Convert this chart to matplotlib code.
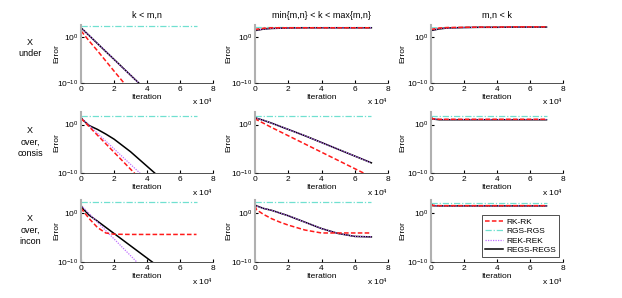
import numpy as np
import matplotlib
matplotlib.use("Agg")
import matplotlib.pyplot as plt

plt.rcParams['font.family'] = ['Liberation Sans', 'DejaVu Sans']
plt.rcParams['mathtext.fontset'] = 'custom'
plt.rcParams['mathtext.rm'] = 'Liberation Sans'
plt.rcParams['mathtext.it'] = 'Liberation Sans'

# iteration count, in units of 1e4
iters = np.array([0, 0.1, 0.5, 1, 1.5, 2, 3, 4, 5, 6, 7])
nan = np.nan

col_titles = ["k < m,n", "min{m,n} < k < max{m,n}", "m,n < k"]
row_labels = ["X\nunder", "X\nover,\nconsis", "X\nover,\nincon"]
methods = ["RK-RK", "RGS-RGS", "REK-REK", "REGS-REGS"]

# log10(error) per panel, order: RK, RGS, REK, REGS
under_low = [
    [1.3, 0.9, -0.9, -3.0, -5.2, -7.4, -11.7, nan, nan, nan, nan],
    [2.3, 2.3, 2.3, 2.3, 2.3, 2.3, 2.3, 2.3, 2.3, 2.3, 2.3],
    [2.0, 1.66, 0.3, -1.4, -3.1, -4.9, -8.3, -11.7, nan, nan, nan],
    [2.0, 1.66, 0.29, -1.43, -3.15, -4.86, -8.29, -11.7, nan, nan, nan],
]
under_mid = [
    [1.6, 1.7, 1.9, 2.0, 2.0, 2.0, 2.0, 2.0, 2.0, 2.0, 2.0],
    [2.15, 2.15, 2.15, 2.15, 2.15, 2.15, 2.15, 2.15, 2.15, 2.15, 2.15],
    [1.5, 1.5, 1.7, 1.85, 1.9, 1.95, 2.0, 2.0, 2.0, 2.0, 2.0],
    [1.4, 1.45, 1.7, 1.85, 1.9, 1.95, 2.0, 2.0, 2.0, 2.0, 2.0],
]
under_high = [
    [1.6, 1.7, 1.95, 2.05, 2.08, 2.1, 2.15, 2.15, 2.2, 2.2, 2.2],
    [2.0, 2.0, 2.0, 2.05, 2.05, 2.05, 2.1, 2.1, 2.1, 2.1, 2.1],
    [1.5, 1.5, 1.8, 1.95, 2.0, 2.05, 2.1, 2.1, 2.15, 2.15, 2.15],
    [1.5, 1.45, 1.75, 1.95, 2.0, 2.05, 2.1, 2.1, 2.15, 2.15, 2.15],
]
consis_low = [
    [1.3, 0.95, -0.45, -2.2, -3.95, -5.7, -9.2, -12.7, nan, nan, nan],
    [1.8, 1.8, 1.8, 1.8, 1.8, 1.8, 1.8, 1.8, 1.8, 1.8, 1.8],
    [1.4, 1.1, -0.2, -1.8, -3.4, -5.0, -8.2, -11.4, nan, nan, nan],
    [1.5, 1.0, -0.2, -1.0, -1.95, -3.0, -5.6, -8.6, -11.6, nan, nan],
]
consis_mid = [
    [1.3, 1.0, 0.3, -0.6, -1.45, -2.3, -4.0, -5.7, -7.4, -9.1, -10.8],
    [1.7, 1.7, 1.7, 1.7, 1.7, 1.7, 1.7, 1.7, 1.7, 1.7, 1.7],
    [1.5, 1.3, 0.9, 0.3, -0.35, -1.0, -2.3, -3.7, -5.1, -6.5, -7.9],
    [1.5, 1.3, 0.9, 0.3, -0.35, -1.0, -2.3, -3.7, -5.1, -6.5, -7.9],
]
consis_high = [
    [1.5, 1.2, 1.1, 1.1, 1.1, 1.1, 1.1, 1.1, 1.1, 1.1, 1.1],
    [1.7, 1.7, 1.7, 1.7, 1.7, 1.7, 1.7, 1.7, 1.7, 1.7, 1.7],
    [1.5, 1.15, 1.05, 1.05, 1.05, 1.05, 1.05, 1.05, 1.05, 1.05, 1.05],
    [1.5, 1.15, 1.0, 1.0, 1.0, 1.0, 1.0, 1.0, 1.0, 1.0, 1.0],
]
incon_low = [
    [1.0, 0.5, -1.2, -3.0, -4.1, -4.35, -4.4, -4.4, -4.4, -4.4, -4.4],
    [2.1, 2.1, 2.1, 2.1, 2.1, 2.1, 2.1, 2.1, 2.1, 2.1, 2.1],
    [1.5, 1.2, -0.2, -1.9, -3.6, -5.3, -8.7, -12.1, nan, nan, nan],
    [1.5, 0.9, -0.5, -1.7, -2.95, -4.2, -6.7, -9.2, -11.7, nan, nan],
]
incon_mid = [
    [1.4, 0.6, -0.3, -1.2, -1.9, -2.5, -3.5, -4.1, -4.1, -4.1, -4.1],
    [2.1, 2.1, 2.1, 2.1, 2.1, 2.1, 2.1, 2.1, 2.1, 2.1, 2.1],
    [1.6, 1.4, 0.9, 0.5, -0.05, -0.6, -1.9, -3.2, -4.2, -4.8, -4.9],
    [1.6, 1.4, 0.9, 0.5, -0.05, -0.6, -1.9, -3.2, -4.2, -4.8, -4.9],
]
incon_high = [
    [1.8, 1.5, 1.45, 1.45, 1.45, 1.45, 1.45, 1.45, 1.45, 1.45, 1.45],
    [1.9, 1.9, 1.9, 1.9, 1.9, 1.9, 1.9, 1.9, 1.9, 1.9, 1.9],
    [1.8, 1.5, 1.4, 1.4, 1.4, 1.4, 1.4, 1.4, 1.4, 1.4, 1.4],
    [1.8, 1.45, 1.4, 1.4, 1.4, 1.4, 1.4, 1.4, 1.4, 1.4, 1.4],
]

panels = [
    [under_low, under_mid, under_high],
    [consis_low, consis_mid, consis_high],
    [incon_low, incon_mid, incon_high],
]

styles = [
    dict(color='#ff1a1a', ls=(0, (3, 1.5)), lw=1.1),
    dict(color='#70e0d0', ls=(0, (5, 1.5, 1, 1.5)), lw=0.9),
    dict(color='#c070ff', ls=(0, (1, 1)), lw=0.9),
    dict(color='black', ls='-', lw=1.1),
]
draw_order = [1, 3, 2, 0]

W, H = 622, 298
fig = plt.figure(figsize=(W / 100, H / 100), dpi=100)

col_x = [(81, 213), (255, 388), (431, 563)]
row_y = [(25, 83), (112, 173), (200, 262)]
ylab_x = [57, 229, 403]
fs = 6

for r in range(3):
    for c in range(3):
        x0, x1 = col_x[c]
        y0, y1 = row_y[r]
        ax = fig.add_axes([x0 / W, 1 - y1 / H, (x1 - x0) / W, (y1 - y0) / H])
        for k in draw_order:
            vals = np.array(panels[r][c][k], dtype=float)
            ax.semilogy(iters, 10 ** vals, label=methods[k], **styles[k])
        ax.set_xlim(0, 8)
        ax.set_ylim(1e-10, 10 ** 2.6)
        ax.set_xticks([0, 2, 4, 6, 8])
        ax.set_yticks([1e-10, 1])
        ax.set_yticklabels([r'$10^{-10}$', r'$10^{0}$'])
        ax.minorticks_off()
        ax.tick_params(direction='in', length=2, labelsize=fs, pad=2)
        ax.spines['top'].set_visible(False)
        ax.spines['right'].set_visible(False)
        ax.spines['left'].set_color('#b0b0b0')
        ax.spines['left'].set_linewidth(1.5)
        ax.spines['bottom'].set_color('#333333')
        ax.spines['bottom'].set_linewidth(0.6)
        ax.set_xlabel('Iteration', fontsize=fs, labelpad=1)
        ax.text(1.0, -0.33, r'x $10^4$', transform=ax.transAxes,
                ha='right', va='center', fontsize=fs)
        fig.text(ylab_x[c] / W, 1 - (y0 + y1) / 2 / H, 'Error', rotation=90,
                 ha='center', va='center', fontsize=fs)
        if r == 0:
            ax.set_title(col_titles[c], fontsize=6.5, pad=5)
        if r == 2 and c == 2:
            handles, labels = ax.get_legend_handles_labels()
            order = [labels.index(m) for m in methods]
            leg = ax.legend([handles[i] for i in order], methods,
                            loc='lower right', bbox_to_anchor=(1.0, 0.02),
                            fontsize=fs, frameon=True, fancybox=False,
                            edgecolor='black', handlelength=2.2,
                            borderpad=0.3, labelspacing=0.2, handletextpad=0.4)
            leg.get_frame().set_linewidth(0.6)

row_label_y = [48, 142, 230]
for r in range(3):
    fig.text(30 / W, 1 - row_label_y[r] / H, row_labels[r], ha='center',
             va='center', fontsize=6.5, linespacing=1.3)

fig.savefig('out.png', dpi=100)
